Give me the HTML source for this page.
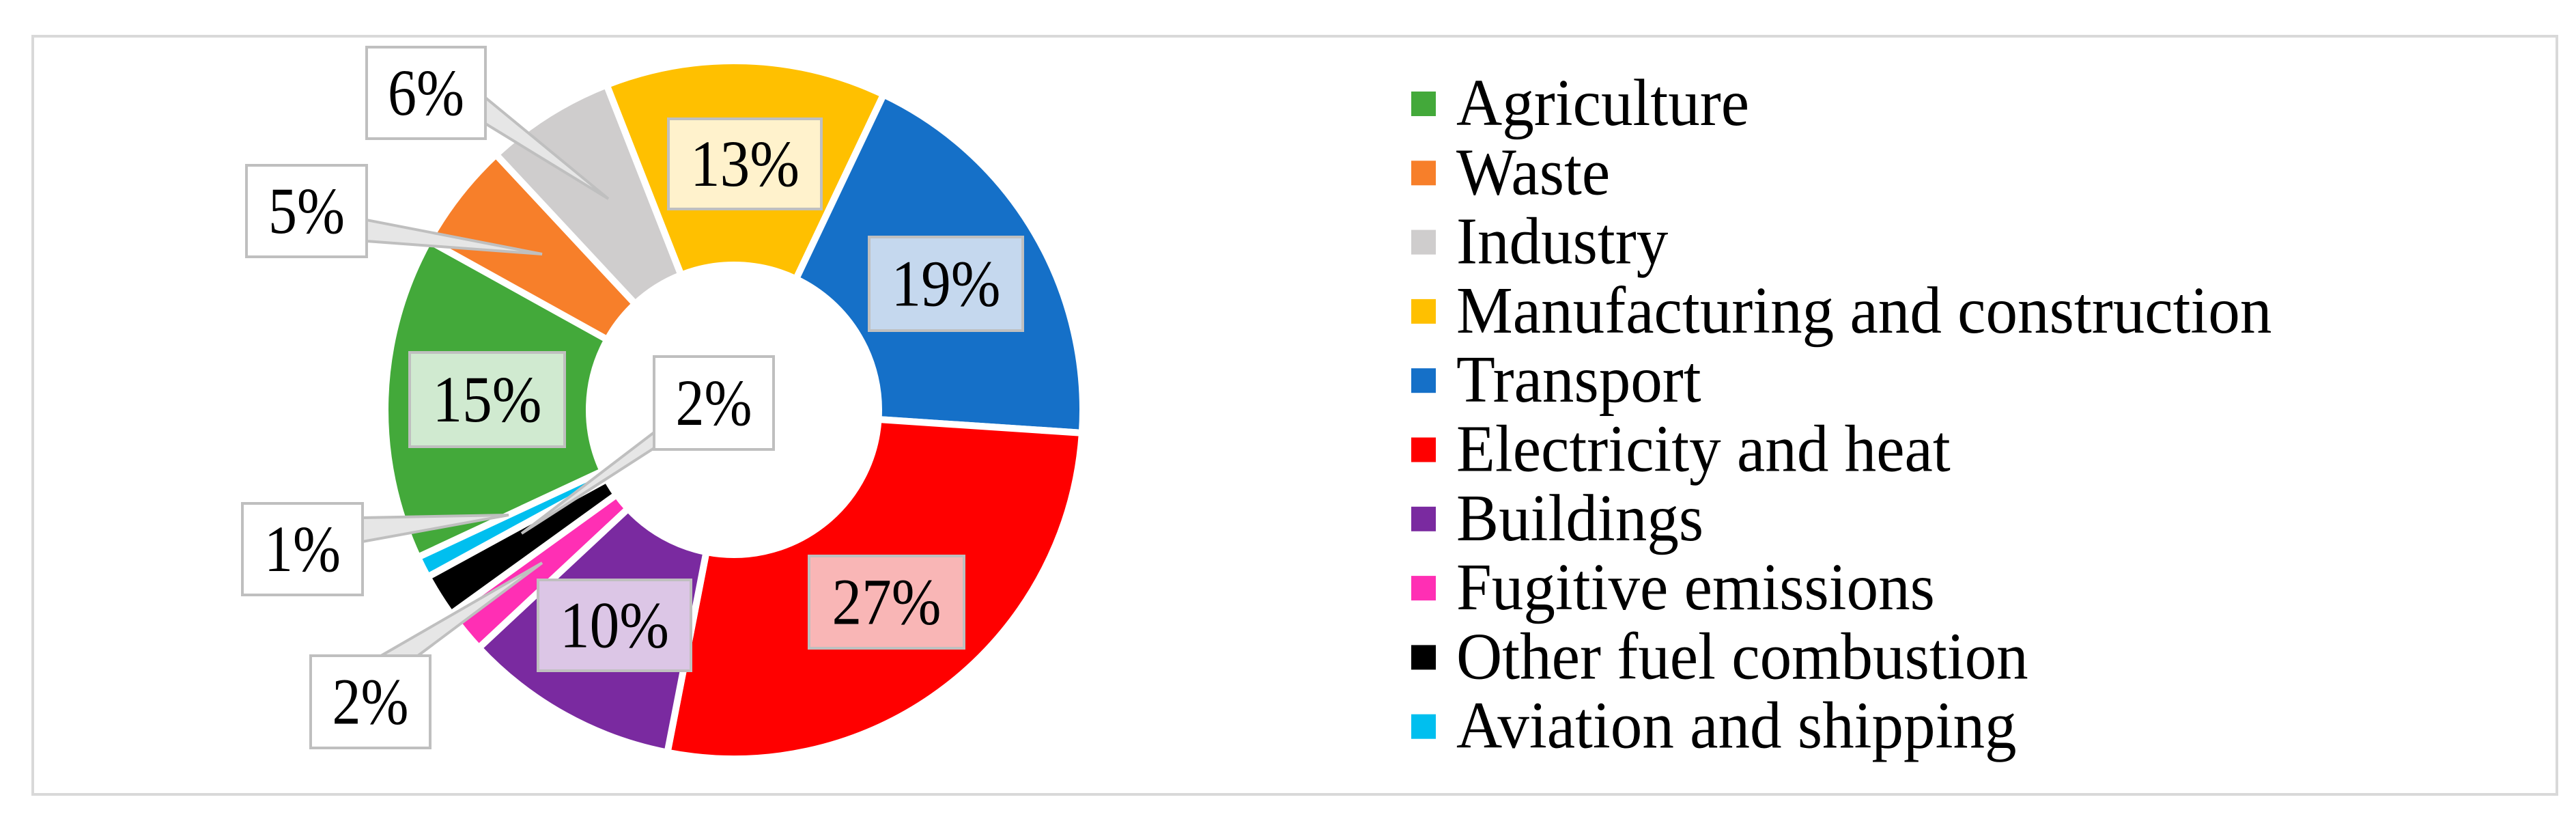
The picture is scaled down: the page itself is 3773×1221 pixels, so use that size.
<!DOCTYPE html>
<html><head><meta charset="utf-8"><style>
html,body{margin:0;padding:0;background:#fff}
svg{display:block}
text{font-family:"Liberation Serif",serif}
</style></head><body>
<svg id="chart" width="3773" height="1221" viewBox="0 0 3773 1221">
<rect x="48" y="53" width="3697" height="1110" fill="#fff" stroke="#d9d9d9" stroke-width="4"/>
<g id="slices"></g>
<g id="leaders"></g>
<g id="labels"></g>
<g id="legend"></g>
</svg>
<script>
const categories = ["Agriculture","Waste","Industry","Manufacturing and construction","Transport","Electricity and heat","Buildings","Fugitive emissions","Other fuel combustion","Aviation and shipping"];
const values = [15,5,6,13,19,27,10,2,2,1];
const colors = ["#43a93a","#f77f2a","#cfcdcd","#ffc000","#1570c8","#ff0000","#7a2aa0","#ff2fb4","#000000","#00bfef"];
const labelFills = ["#d0ead0","#ffffff","#ffffff","#fff2cc","#c5d8ee","#f9b6b6","#dcc6e6","#ffffff","#ffffff","#ffffff"];
// label box placements (layout, not data)
const labelBoxes = [[600,516,227,138],[361,242,176,134],[537,69,174,134],[979,174,224,132],[1273,347,225,137],[1185,814,227,135],[788,849,224,133],[455,960,175,135],[958,522,175,136],[355,737,176,134]];
const NS="http://www.w3.org/2000/svg";
const cx=1075, cy=600, R=511, r=212, startDeg=245;
const total=values.reduce((a,b)=>a+b,0);
function pt(deg,rad){const a=(deg-90)*Math.PI/180;return [cx+rad*Math.cos(a),cy+rad*Math.sin(a)];}
const sl=document.getElementById('slices');
let acc=0;
values.forEach((v,i)=>{
  const a0=startDeg+acc/total*360, a1=startDeg+(acc+v)/total*360; acc+=v;
  const large=(a1-a0)>180?1:0;
  const p1=pt(a0,R),p2=pt(a1,R),p3=pt(a1,r),p4=pt(a0,r);
  const p=document.createElementNS(NS,'path');
  p.setAttribute('d',`M${p1}A${R},${R} 0 ${large} 1 ${p2}L${p3}A${r},${r} 0 ${large} 0 ${p4}Z`);
  p.setAttribute('fill',colors[i]);p.setAttribute('stroke','#fff');p.setAttribute('stroke-width','10');
  
  
  sl.appendChild(p);
});
const ld=document.getElementById('leaders');
const leaderPolys=[[1,"537,322 537,353 794,372"],[2,"711,143 711,181 891,291"],[9,"531,758 531,793 745,754"],[8,"958,633 958,656 764,781"],[7,"558,960 612,960 794,824"]];
leaderPolys.forEach(([i,pts])=>{
  const g=document.createElementNS(NS,'polygon');
  g.setAttribute('points',pts);g.setAttribute('fill','#e6e6e6');g.setAttribute('stroke','#bfbfbf');g.setAttribute('stroke-width','4');
  
  
  ld.appendChild(g);
});
const lb=document.getElementById('labels');
values.forEach((v,i)=>{
  const [x,y,w,h]=labelBoxes[i];
  const g=document.createElementNS(NS,'g');
  
  
  const rc=document.createElementNS(NS,'rect');
  rc.setAttribute('x',x);rc.setAttribute('y',y);rc.setAttribute('width',w);rc.setAttribute('height',h);
  rc.setAttribute('fill',labelFills[i]);rc.setAttribute('stroke','#bfbfbf');rc.setAttribute('stroke-width','4');
  g.appendChild(rc);
  const t=document.createElementNS(NS,'text');
  const s=v+'%';
  t.textContent=s;
  t.setAttribute('x',x+w/2);t.setAttribute('y',y+h/2+32);
  t.setAttribute('text-anchor','middle');t.setAttribute('font-size','96');
  t.setAttribute('textLength',s.length===3?160:112);t.setAttribute('lengthAdjust','spacingAndGlyphs');
  g.appendChild(t);
  lb.appendChild(g);
});
const lg=document.getElementById('legend');
categories.forEach((c,i)=>{
  const yc=152+i*101.3;
  const g=document.createElementNS(NS,'g');
  
  
  const rc=document.createElementNS(NS,'rect');
  rc.setAttribute('x',2067);rc.setAttribute('y',yc-18);rc.setAttribute('width',36);rc.setAttribute('height',36);
  rc.setAttribute('fill',colors[i]);
  g.appendChild(rc);
  const t=document.createElementNS(NS,'text');
  t.textContent=c;t.setAttribute('font-size','98');
  t.setAttribute('transform',`translate(2133,${yc+31}) scale(0.95,1)`);
  g.appendChild(t);
  lg.appendChild(g);
});
</script>
</body></html>
